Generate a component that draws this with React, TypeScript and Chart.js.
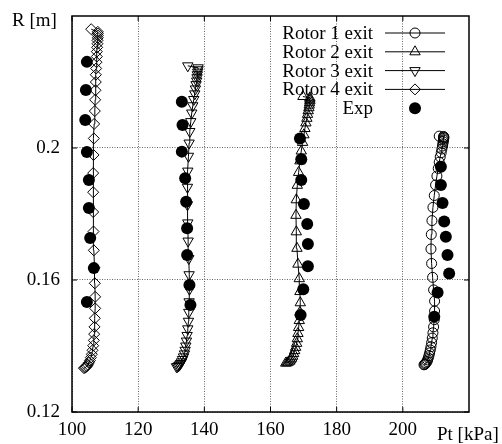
import React, { useEffect, useRef } from 'react';
import { Chart, registerables } from 'chart.js';

Chart.register(...registerables);

// ---------- data ----------
const seriesLabels = ['Rotor 1 exit', 'Rotor 2 exit', 'Rotor 3 exit', 'Rotor 4 exit', 'Exp'];
const xAxisLabel = 'Pt [kPa]';
const yAxisLabel = 'R [m]';
const xTickValues = [100, 120, 140, 160, 180, 200];
const yTickValues = [0.12, 0.16, 0.2];

const rotor1R = [0.1343, 0.1344, 0.1346, 0.1349, 0.1353, 0.1358, 0.1364, 0.1371, 0.1379, 0.1388, 0.1398, 0.1410, 0.1424, 0.1440, 0.1458, 0.1480, 0.1506, 0.1536, 0.1570, 0.1608, 0.1650, 0.1694, 0.1738, 0.1780, 0.1820, 0.1856, 0.1888, 0.1915, 0.1938, 0.1957, 0.1973, 0.1986, 0.1997, 0.2006, 0.2013, 0.2019, 0.2024, 0.2028, 0.2031, 0.2033, 0.2035, 0.2036];
const rotor1P = [206.4, 206.6, 206.8, 207.0, 207.3, 207.5, 207.7, 207.9, 208.1, 208.3, 208.5, 208.7, 208.9, 209.1, 209.3, 209.5, 209.6, 209.6, 209.3, 209.0, 208.7, 208.5, 208.6, 208.8, 209.1, 209.5, 209.9, 210.3, 210.7, 211.0, 211.3, 211.6, 211.8, 212.0, 212.1, 212.2, 212.3, 212.3, 212.4, 212.4, 212.3, 211.0];

const rotor2R = [0.1348, 0.1349, 0.1351, 0.1354, 0.1358, 0.1363, 0.1369, 0.1377, 0.1386, 0.1396, 0.1408, 0.1422, 0.1438, 0.1456, 0.1477, 0.1502, 0.1531, 0.1565, 0.1604, 0.1648, 0.1696, 0.1746, 0.1796, 0.1843, 0.1887, 0.1926, 0.1961, 0.1991, 0.2017, 0.2040, 0.2059, 0.2076, 0.2090, 0.2102, 0.2113, 0.2122, 0.2130, 0.2137, 0.2143, 0.2148, 0.2152, 0.2156];
const rotor2P = [164.6, 165.0, 165.4, 165.8, 166.1, 166.4, 166.7, 167.0, 167.3, 167.6, 167.9, 168.1, 168.3, 168.5, 168.7, 168.9, 169.0, 168.9, 168.7, 168.3, 168.0, 167.8, 167.7, 167.8, 168.1, 168.5, 168.9, 169.3, 169.7, 170.1, 170.4, 170.7, 171.0, 171.2, 171.4, 171.6, 171.7, 171.8, 171.9, 171.9, 171.9, 169.8];

const rotor3R = [0.1337, 0.1338, 0.1340, 0.1343, 0.1347, 0.1352, 0.1359, 0.1367, 0.1376, 0.1387, 0.1400, 0.1415, 0.1432, 0.1452, 0.1475, 0.1502, 0.1534, 0.1572, 0.1616, 0.1665, 0.1718, 0.1773, 0.1828, 0.1881, 0.1930, 0.1975, 0.2015, 0.2050, 0.2080, 0.2106, 0.2128, 0.2147, 0.2164, 0.2179, 0.2192, 0.2203, 0.2213, 0.2222, 0.2230, 0.2237, 0.2243, 0.2249];
const rotor3P = [131.6, 131.9, 132.2, 132.5, 132.8, 133.1, 133.4, 133.7, 134.0, 134.2, 134.4, 134.6, 134.8, 135.0, 135.2, 135.3, 135.4, 135.5, 135.4, 135.3, 135.1, 135.0, 134.9, 134.9, 135.0, 135.2, 135.4, 135.6, 135.9, 136.2, 136.5, 136.8, 137.1, 137.3, 137.5, 137.7, 137.8, 137.9, 138.0, 138.1, 138.1, 135.0];

const rotor4R = [0.1333, 0.1334, 0.1336, 0.1339, 0.1343, 0.1349, 0.1356, 0.1365, 0.1375, 0.1387, 0.1401, 0.1417, 0.1436, 0.1458, 0.1484, 0.1514, 0.1549, 0.1590, 0.1637, 0.1690, 0.1747, 0.1806, 0.1866, 0.1924, 0.1979, 0.2029, 0.2073, 0.2112, 0.2146, 0.2175, 0.2200, 0.2222, 0.2241, 0.2260, 0.2277, 0.2292, 0.2305, 0.2316, 0.2326, 0.2334, 0.2341, 0.2347, 0.2352, 0.2360];
const rotor4P = [103.6, 103.9, 104.2, 104.5, 104.8, 105.1, 105.4, 105.7, 106.0, 106.2, 106.4, 106.6, 106.7, 106.8, 106.9, 107.0, 107.0, 106.9, 106.8, 106.6, 106.5, 106.4, 106.4, 106.4, 106.5, 106.6, 106.7, 106.9, 107.0, 107.1, 107.2, 107.2, 107.3, 107.4, 107.5, 107.5, 107.6, 107.7, 107.7, 107.8, 107.8, 107.8, 107.8, 105.8];

const expP = [
  211.5, 211.5, 212.0, 212.5, 213.0, 213.5, 214.0, 210.5, 209.5,
  168.9, 169.3, 169.3, 170.1, 171.1, 171.3, 171.3, 169.9, 169.1,
  133.2, 133.4, 133.2, 134.2, 134.5, 134.8, 134.8, 135.5, 135.8,
  104.5, 104.2, 104.0, 104.5, 105.1, 105.1, 105.5, 106.6, 104.5,
];
const expR = [
  0.1943, 0.1888, 0.1833, 0.1777, 0.1731, 0.1676, 0.1620, 0.1562, 0.1489,
  0.2029, 0.1966, 0.1903, 0.1830, 0.1770, 0.1709, 0.1642, 0.1572, 0.1494,
  0.2140, 0.2070, 0.1989, 0.1908, 0.1837, 0.1757, 0.1676, 0.1585, 0.1524,
  0.2261, 0.2176, 0.2085, 0.1988, 0.1903, 0.1818, 0.1727, 0.1636, 0.1533,
];

// ---------- helpers ----------
const FONT = '"Liberation Serif", "Times New Roman", serif';
const FONT_SIZE = 19;

const toPoints = (xs: number[], ys: number[]) => xs.map((x, i) => ({ x, y: ys[i] }));

type MarkerSpec = { style: string; radius: number; rotation: number; filled: boolean; line: boolean };

const markerSpecs: MarkerSpec[] = [
  { style: 'circle', radius: 5, rotation: 0, filled: false, line: true },
  { style: 'triangle', radius: 6, rotation: 0, filled: false, line: true },
  { style: 'triangle', radius: 6, rotation: 180, filled: false, line: true },
  { style: 'rectRot', radius: 5.5, rotation: 0, filled: false, line: true },
  { style: 'circle', radius: 6, rotation: 0, filled: true, line: false },
];

function drawMarker(ctx: CanvasRenderingContext2D, m: MarkerSpec, x: number, y: number) {
  ctx.beginPath();
  const r = m.radius;
  if (m.style === 'circle') {
    ctx.arc(x, y, r, 0, Math.PI * 2);
  } else if (m.style === 'triangle') {
    let rad = (m.rotation * Math.PI) / 180;
    ctx.moveTo(x + Math.sin(rad) * r, y - Math.cos(rad) * r);
    rad += (2 * Math.PI) / 3;
    ctx.lineTo(x + Math.sin(rad) * r, y - Math.cos(rad) * r);
    rad += (2 * Math.PI) / 3;
    ctx.lineTo(x + Math.sin(rad) * r, y - Math.cos(rad) * r);
    ctx.closePath();
  } else {
    ctx.moveTo(x - r, y);
    ctx.lineTo(x, y - r);
    ctx.lineTo(x + r, y);
    ctx.lineTo(x, y + r);
    ctx.closePath();
  }
  if (m.filled) {
    ctx.fillStyle = '#000';
    ctx.fill();
  } else {
    ctx.strokeStyle = '#000';
    ctx.lineWidth = 1;
    ctx.stroke();
  }
}

const framePlugin = {
  id: 'frameAndKey',
  afterDraw(chart: any) {
    const { ctx, chartArea: a, scales } = chart;
    ctx.save();
    // frame
    ctx.strokeStyle = '#000';
    ctx.lineWidth = 1.5;
    ctx.strokeRect(a.left, a.top, a.right - a.left, a.bottom - a.top);
    // inward tick marks on all sides
    ctx.lineWidth = 1;
    const tl = 5;
    ctx.beginPath();
    for (const t of scales.x.ticks) {
      const px = scales.x.getPixelForValue(t.value);
      ctx.moveTo(px, a.bottom);
      ctx.lineTo(px, a.bottom - tl);
      ctx.moveTo(px, a.top);
      ctx.lineTo(px, a.top + tl);
    }
    for (const t of scales.y.ticks) {
      const py = scales.y.getPixelForValue(t.value);
      ctx.moveTo(a.left, py);
      ctx.lineTo(a.left + tl, py);
      ctx.moveTo(a.right, py);
      ctx.lineTo(a.right - tl, py);
    }
    ctx.stroke();

    // axis titles
    ctx.fillStyle = '#000';
    ctx.font = `${FONT_SIZE}px ${FONT}`;
    ctx.textAlign = 'left';
    ctx.textBaseline = 'alphabetic';
    ctx.fillText(yAxisLabel, a.left - 60, a.top + 10);
    ctx.fillText(xAxisLabel, a.right - 32, a.bottom + 28);

    // key
    const textRight = a.right - 96;
    const lineL = a.right - 84;
    const lineR = a.right - 24;
    const mx = a.right - 54;
    ctx.textAlign = 'right';
    ctx.textBaseline = 'middle';
    seriesLabels.forEach((lab, i) => {
      const y = a.top + 17 + i * 18.8;
      ctx.fillStyle = '#000';
      ctx.fillText(lab, textRight, y + 1);
      const m = markerSpecs[i];
      if (m.line) {
        ctx.beginPath();
        ctx.moveTo(lineL, y);
        ctx.lineTo(lineR, y);
        ctx.strokeStyle = '#000';
        ctx.lineWidth = 1;
        ctx.stroke();
      }
      drawMarker(ctx, m, mx, y);
    });
    ctx.restore();
  },
};

export default function App() {
  const canvasRef = useRef<HTMLCanvasElement | null>(null);

  useEffect(() => {
    if (!canvasRef.current) return;
    const rotorData = [
      toPoints(rotor1P, rotor1R),
      toPoints(rotor2P, rotor2R),
      toPoints(rotor3P, rotor3R),
      toPoints(rotor4P, rotor4R),
    ];
    const rotorDatasets = rotorData.map((d, i) => {
      const m = markerSpecs[i];
      return {
        label: seriesLabels[i],
        data: d,
        showLine: true,
        borderColor: '#000',
        borderWidth: 1,
        backgroundColor: 'rgba(0,0,0,0)',
        pointStyle: m.style,
        pointRadius: m.radius,
        pointRotation: m.rotation,
        pointBorderColor: '#000',
        pointBackgroundColor: 'rgba(0,0,0,0)',
        pointBorderWidth: 1,
        tension: 0,
      };
    });
    const expDataset = {
      label: seriesLabels[4],
      data: toPoints(expP, expR),
      showLine: false,
      pointStyle: 'circle',
      pointRadius: markerSpecs[4].radius,
      pointBackgroundColor: '#000',
      pointBorderColor: '#000',
      pointBorderWidth: 0,
    };

    const tickFont = { family: FONT, size: FONT_SIZE };
    const chart = new Chart(canvasRef.current, {
      type: 'scatter',
      data: { datasets: [expDataset, ...rotorDatasets] as any },
      options: {
        animation: false,
        responsive: false,
        maintainAspectRatio: false,
        layout: { padding: { left: 0, top: 16, right: 33, bottom: 0 } },
        plugins: { legend: { display: false }, tooltip: { enabled: false } },
        events: [],
        scales: {
          x: {
            type: 'linear',
            min: 100,
            max: 220,
            afterBuildTicks: (s: any) => {
              s.ticks = xTickValues.map((v) => ({ value: v }));
            },
            afterFit: (s: any) => {
              s.height = 32;
              s.paddingLeft = 0;
              s.paddingRight = 0;
            },
            ticks: {
              font: tickFont,
              color: '#000',
              padding: 7,
              maxRotation: 0,
              autoSkip: false,
              callback: (v: any) => String(v),
            },
            grid: { color: '#666', lineWidth: 1, drawTicks: false },
            border: { display: false, dash: [1, 1.5] },
          },
          y: {
            type: 'linear',
            min: 0.12,
            max: 0.24,
            afterBuildTicks: (s: any) => {
              s.ticks = yTickValues.map((v) => ({ value: v }));
            },
            afterFit: (s: any) => {
              s.width = 72;
              s.paddingTop = 0;
              s.paddingBottom = 0;
            },
            ticks: {
              font: tickFont,
              color: '#000',
              padding: 12,
              autoSkip: false,
              callback: (v: any) => String(Math.round(Number(v) * 100) / 100),
            },
            grid: { color: '#666', lineWidth: 1, drawTicks: false },
            border: { display: false, dash: [1, 1.5] },
          },
        },
      } as any,
      plugins: [framePlugin],
    });
    return () => chart.destroy();
  }, []);

  return (
    <div style={{ position: 'fixed', left: 0, top: 0, width: 502, height: 444, background: '#fff' }}>
      <canvas ref={canvasRef} width={502} height={444} style={{ display: 'block' }} />
    </div>
  );
}
